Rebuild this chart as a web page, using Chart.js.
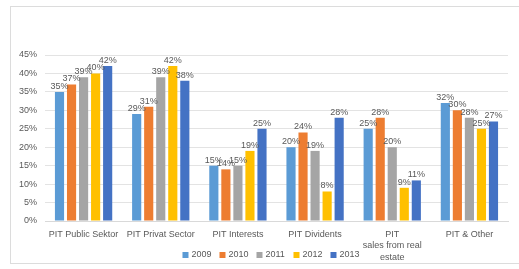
<!DOCTYPE html>
<html>
<head>
<meta charset="utf-8">
<script src="https://cdn.jsdelivr.net/npm/chart.js@4/dist/chart.umd.min.js"></script>
<style>
html,body{margin:0;padding:0;background:#fff;}
#wrap{position:relative;width:519px;height:269px;}
#frame{position:absolute;left:10px;top:6px;width:520px;height:258px;border:1px solid #dcdcdc;box-sizing:border-box;}
canvas{position:absolute;left:0;top:0;}
</style>
</head>
<body>
<div id="wrap"><div id="frame"></div><canvas id="c" width="519" height="269"></canvas></div>
<script>
const categories = ["PIT Public Sektor", "PIT Privat Sector", "PIT Interests", "PIT Dividents", ["PIT", "sales from real", "estate"], "PIT & Other"];
const years = ["2009", "2010", "2011", "2012", "2013"];
const v2009 = [35, 29, 15, 20, 25, 32];
const v2010 = [37, 31, 14, 24, 28, 30];
const v2011 = [39, 39, 15, 19, 20, 28];
const v2012 = [40, 42, 19, 8, 9, 25];
const v2013 = [42, 38, 25, 28, 11, 27];
const yTicks = [0, 5, 10, 15, 20, 25, 30, 35, 40, 45];

const colors = ["#5B9BD5", "#ED7D31", "#A5A5A5", "#FFC000", "#4472C4"];
const series = [v2009, v2010, v2011, v2012, v2013];
const FONT = "'Liberation Sans', Arial, sans-serif";

const labelPlugin = {
  id: 'valLabels',
  afterDatasetsDraw(chart) {
    const ctx = chart.ctx;
    ctx.save();
    ctx.font = "9px " + FONT;
    ctx.fillStyle = "#595959";
    ctx.textAlign = "center";
    ctx.textBaseline = "bottom";
    chart.data.datasets.forEach((ds, i) => {
      const meta = chart.getDatasetMeta(i);
      meta.data.forEach((bar, j) => {
        ctx.fillText(ds.data[j] + "%", bar.x, bar.y - 1);
      });
    });
    ctx.restore();
  }
};

const legendPlugin = {
  id: 'customLegend',
  afterDraw(chart) {
    const ctx = chart.ctx;
    ctx.save();
    ctx.font = "9px " + FONT;
    ctx.textBaseline = "middle";
    ctx.textAlign = "left";
    const box = 6, gap = 3, pitch = 37;
    const total = pitch * (years.length - 1) + box + gap + ctx.measureText(years[years.length - 1]).width;
    let x = 271 - total / 2;
    const y = 255;
    chart.data.datasets.forEach((ds, i) => {
      ctx.fillStyle = ds.backgroundColor;
      ctx.fillRect(x, y - box / 2, box, box);
      ctx.fillStyle = "#595959";
      ctx.fillText(ds.label, x + box + gap, y);
      x += pitch;
    });
    ctx.restore();
  }
};

new Chart(document.getElementById('c'), {
  type: 'bar',
  data: {
    labels: categories,
    datasets: years.map((y, i) => ({
      label: y,
      data: series[i],
      backgroundColor: colors[i],
      categoryPercentage: 0.78,
      barPercentage: 0.76
    }))
  },
  options: {
    responsive: false,
    animation: false,
    devicePixelRatio: 1,
    layout: { padding: { left: 12, right: 11, top: 55, bottom: 8 } },
    plugins: {
      legend: { display: false },
      tooltip: { enabled: false }
    },
    scales: {
      x: {
        grid: { display: false },
        border: { color: "#d9d9d9" },
        ticks: { font: { size: 9, family: FONT, lineHeight: 1.25 }, color: "#595959", maxRotation: 0, autoSkip: false, padding: 0 },
        afterFit(axis) { axis.height = 40; }
      },
      y: {
        min: 0, max: 45,
        afterBuildTicks(axis) { axis.ticks = yTicks.map(v => ({ value: v })); },
        grid: { color: "#e3e3e3", drawTicks: false },
        border: { display: false },
        ticks: { font: { size: 9, family: FONT }, color: "#595959", callback: v => v + "%", padding: 8 },
        afterFit(axis) { axis.width = 33; }
      }
    }
  },
  plugins: [labelPlugin, legendPlugin]
});
</script>
</body>
</html>
